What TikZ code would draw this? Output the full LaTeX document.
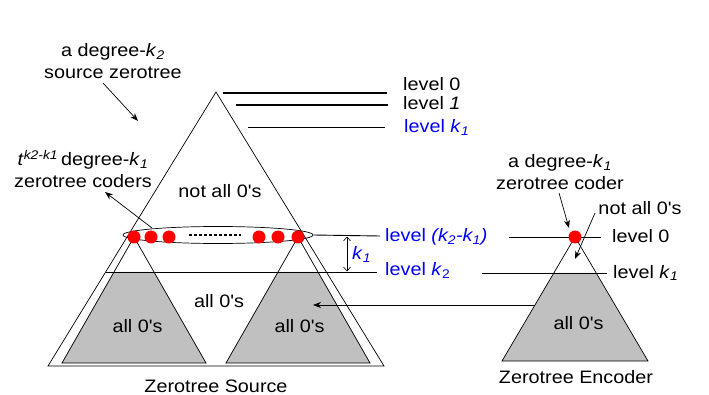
\documentclass[tikz,border=0pt]{standalone}
\usepackage{fontspec}
\setmainfont{Liberation Sans}[FakeStretch=1.1,Ligatures=TeXOff]
\usetikzlibrary{arrows.meta,shapes.geometric}
\definecolor{lblue}{RGB}{0,0,255}
\definecolor{zgray}{RGB}{192,192,192}
\begin{document}
\begin{tikzpicture}[x=1pt,y=-1pt,
  font=\fontsize{18}{22}\selectfont,
  tri/.style={draw=black, line width=0.7pt},
  lvl/.style={draw=black, line width=1.1pt},
  lab/.style={inner sep=0pt, anchor=base west},
  txt/.style={inner sep=0pt, align=center},
  arr/.style={-{Stealth[length=8pt,width=6pt]}, line width=0.7pt},
  dbl/.style={{Straight Barb[length=4pt,width=7pt]}-{Straight Barb[length=4pt,width=7pt]}, line width=0.6pt},
  rdot/.style={circle, fill=red, inner sep=0pt, minimum size=13pt},
  ]
\useasboundingbox (0,0) rectangle (709,395);
\fill[white] (0,0) rectangle (709,395);

% ---------- big source triangle ----------
\coordinate (A) at (216,92);
\coordinate (BL) at (48,366);
\coordinate (BR) at (384,366);
\draw[tri] (A) -- (BL) -- (BR) -- cycle;

% ---------- two subtrees ----------
\foreach \cx/\nm in {134/L,298/R}{
  \fill[zgray] (\cx-20,272) -- (\cx+20,272) -- (\cx+72,363) -- (\cx-72,363) -- cycle;
  \draw[tri] (\cx,237) -- (\cx-72,363) -- (\cx+72,363) -- cycle;
}

% level k2 line
\coordinate (k2a) at (105.5,272);
\coordinate (k2b) at (377,272);
\draw[tri, line width=0.9pt] (k2a) -- (k2b);

% ---------- ellipse with coders ----------
\node[ellipse, draw, line width=0.7pt, minimum width=190pt, minimum height=17pt, inner sep=0pt] (ell) at (218,235) {};
\foreach \x/\n in {134/d1,151/d2,169/d3,259/d4,278/d5,298/d6}{
  \node[rdot] (\n) at (\x,237) {};
}
\draw[line width=1.6pt, dash pattern=on 3pt off 2pt] (189,235) -- (241,235);

% level (k2-k1) line
\coordinate (kk) at (380,236);
\draw[tri, line width=0.9pt] (ell.east) -- (kk);

% k1 double arrow
\coordinate (ka) at (347,236.5);
\coordinate (kb) at (347,271.5);
\draw[dbl] (ka) -- (kb);
\node[lab, text=lblue] (k1lab) at (352,260) {\textit{k}\textsubscript{\textit{1}}};

% ---------- top level lines ----------
\coordinate (l0a) at (223,93);  \coordinate (l0b) at (387,93);
\coordinate (l1a) at (236,105); \coordinate (l1b) at (388,105);
\coordinate (lka) at (248,127); \coordinate (lkb) at (385,127);
\draw[lvl] (l0a) -- (l0b);
\draw[lvl] (l1a) -- (l1b);
\draw[lvl, line width=0.9pt] (lka) -- (lkb);
\node[lab] (t0) at (403,91) {level 0};
\node[lab] (t1) at (403,110) {level \textit{1}};
\node[lab, text=lblue] (tk) at (404,133) {level \textit{k}\textsubscript{\textit{1}}};
\node[lab, text=lblue] (tkk) at (385,242) {level \textit{(k\textsubscript{2}-k\textsubscript{1})}};
\node[lab, text=lblue] (tk2) at (385,276) {level \textit{k}\textsubscript{2}};

% ---------- encoder ----------
\coordinate (EA) at (575,237);
\coordinate (EL) at (502,361);
\coordinate (ER) at (648,361);
\fill[zgray] (553.8,273) -- (596.2,273) -- (ER) -- (EL) -- cycle;
\draw[tri] (EA) -- (EL) -- (ER) -- cycle;
\coordinate (e0a) at (509,237); \coordinate (e0b) at (601,237);
\coordinate (eka) at (482,273); \coordinate (ekb) at (607,273);
\draw[tri, line width=0.9pt] (e0a) -- (e0b);
\draw[tri, line width=0.9pt] (eka) -- (ekb);
\node[rdot] (ed) at (EA) {};
\node[lab] (e0) at (612,243) {level 0};
\node[lab] (ek) at (613,278) {level \textit{k}\textsubscript{\textit{1}}};

% ---------- texts ----------
\node[txt] (srcz) at (113,61) {a degree-\textit{k}\textsubscript{\textit{2}}\\source zerotree};
\node[txt] (coders) at (83,169) {\textit{t}\textsuperscript{\textit{k2-k1}}\,degree-\textit{k}\textsubscript{\textit{1}}\\zerotree coders};
\node[txt] (ecoder) at (560,172) {a degree-\textit{k}\textsubscript{\textit{1}}\\zerotree coder};
\node[txt] (nao) at (220,191) {not all 0's};
\node[txt] (nao2) at (640,208.5) {not all 0's};
\node[txt] (az) at (219,301) {all 0's};
\node[txt] (azl) at (137.5,326) {all 0's};
\node[txt] (azr) at (299.5,326) {all 0's};
\node[txt] (aze) at (578.5,323) {all 0's};
\node[txt] (zs) at (216,386) {Zerotree Source};
\node[txt] (ze) at (576,377) {Zerotree Encoder};

% ---------- arrows ----------
\coordinate (a1s) at (103,83);  \coordinate (a1e) at (138,121);
\coordinate (a2s) at (152,228); \coordinate (a2e) at (105,192);
\coordinate (a3s) at (559,193); \coordinate (a3e) at (569,228);
\coordinate (a4s) at (595,213); \coordinate (a4e) at (575,259);
\coordinate (a5s) at (535,305); \coordinate (a5e) at (313,305);
\draw[arr] (a1s) -- (a1e);
\draw[arr] (a2s) -- (a2e);
\draw[arr] (a3s) -- (a3e);
\draw[arr] (a4s) -- (a4e);
\draw[arr] (a5s) -- (a5e);
\end{tikzpicture}
\end{document}
